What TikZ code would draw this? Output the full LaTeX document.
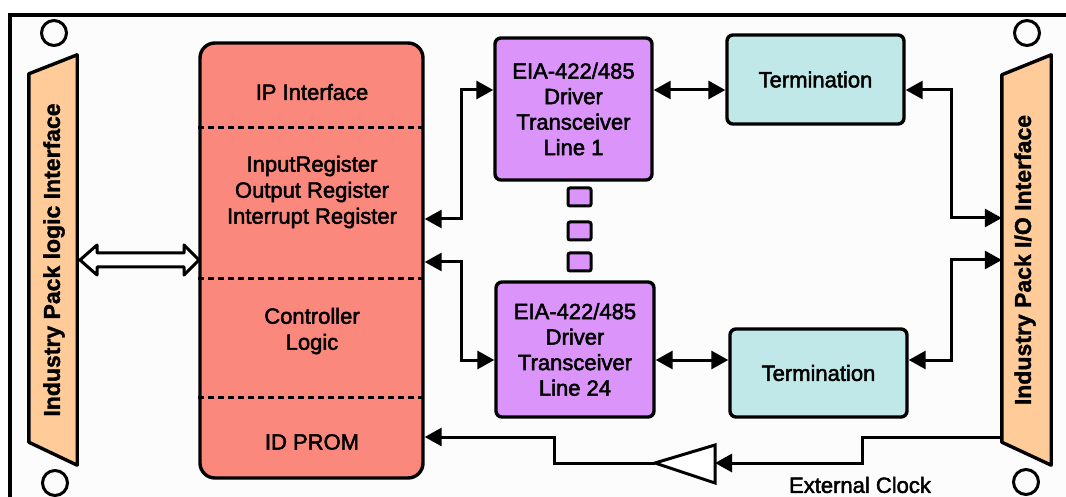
\documentclass[tikz,border=0pt]{standalone}
\usepackage{fontspec}
\setmainfont{Liberation Sans}
\newfontfamily\heavyfont{Liberation Sans}[FakeBold=2.2]
\newfontfamily\heavybold{Liberation Sans Bold}[FakeBold=1.5]
\usetikzlibrary{arrows.meta}
\definecolor{peach}{RGB}{255,204,153}
\definecolor{salmontwo}{RGB}{250,136,124}
\definecolor{violettwo}{RGB}{219,148,250}
\definecolor{aquatwo}{RGB}{192,232,232}
\definecolor{bgtwo}{RGB}{252,252,252}
\begin{document}
\begin{tikzpicture}[x=1pt,y=-1pt,
  box/.style={draw, line width=3.4pt, rounded corners=6pt, inner sep=0pt, align=center, font=\heavyfont\fontsize{22}{25.5}\selectfont},
  lbl/.style={align=center, font=\heavyfont\fontsize{22}{26}\selectfont, inner sep=0pt},
  vlbl/.style={rotate=90, font=\heavybold\fontsize{23}{27}\selectfont, inner sep=0pt},
  conn/.style={line width=3pt},
  dbl/.style={conn, {Triangle[length=17pt,width=18pt]}-{Triangle[length=17pt,width=18pt]}},
  one/.style={conn, -{Triangle[length=17pt,width=18pt]}},
  sep/.style={line width=3pt, dash pattern=on 6pt off 4pt},
  hole/.style={draw, line width=3pt, circle, minimum size=25pt, inner sep=0pt},
  dotbox/.style={draw, line width=3pt, rounded corners=2pt, fill=violettwo, minimum width=23pt, minimum height=18pt, inner sep=0pt},
  geom/.style={inner sep=0pt, draw=none}
]
\useasboundingbox (0,0) rectangle (1066,497);
\fill[bgtwo] (10,15) rectangle (1066,497);
\draw[line width=3.8pt] (10,497) -- (10,15) -- (1066,15);

% mounting holes
\node[hole] (h1) at (54,33) {};
\node[hole] (h2) at (55,483) {};
\node[hole] (h3) at (1027,33) {};
\node[hole] (h4) at (1026,482) {};

% left interface
\node[geom, minimum width=48pt, minimum height=410pt] (lp) at (53,260) {};
\filldraw[fill=peach, line width=3.4pt, line join=round] (lp.north east) -- ([yshift=-19pt]lp.north west) -- ([yshift=23pt]lp.south west) -- (lp.south east) -- cycle;
\node[vlbl] (lptext) at (54,260) {Industry Pack logic Interface};

% right interface
\node[geom, minimum width=49pt, minimum height=410pt] (io) at (1026.5,260) {};
\filldraw[fill=peach, line width=3.4pt, line join=round] (io.north east) -- ([yshift=-20pt]io.north west) -- ([yshift=23pt]io.south west) -- (io.south east) -- cycle;
\node[vlbl] (iotext) at (1025,260) {Industry Pack I/O Interface};

% main controller block
\node[box, fill=salmontwo, rounded corners=15pt, minimum width=223pt, minimum height=435pt] (red) at (311.5,260.5) {};
\draw[sep] (red.west |- 0,128) -- (red.east |- 0,128);
\draw[sep] (red.west |- 0,279) -- (red.east |- 0,279);
\draw[sep] (red.west |- 0,397) -- (red.east |- 0,397);
\node[lbl] (ipif) at (312,92) {IP Interface};
\node[lbl] (regs) at (312,192) {InputRegister\\Output Register\\Interrupt Register};
\node[lbl] (ctrl) at (312,331) {Controller\\Logic};
\node[lbl] (prom) at (312,442) {ID PROM};

% hollow bus arrow
\filldraw[fill=white, line width=3pt, line join=round] (80,260) -- (97,245) -- (97,253) -- (184,253) -- (184,245) -- (199,260) -- (184,275) -- (184,267) -- (97,267) -- (97,275) -- cycle;

% transceivers
\node[box, fill=violettwo, minimum width=157pt, minimum height=142pt] (p1) at (573.5,109) {EIA-422/485\\Driver\\Transceiver\\Line 1};
\node[box, fill=violettwo, minimum width=158pt, minimum height=135pt] (p2) at (575,349.5) {EIA-422/485\\Driver\\Transceiver\\Line 24};
\node[dotbox] (d1) at (579.5,197) {};
\node[dotbox] (d2) at (579.5,231) {};
\node[dotbox] (d3) at (579.5,262) {};

% terminations
\node[box, fill=aquatwo, minimum width=177pt, minimum height=89pt] (t1) at (815.5,79.5) {Termination};
\node[box, fill=aquatwo, minimum width=177pt, minimum height=88pt] (t2) at (818.5,373) {Termination};

% connectors
\draw[dbl] (red.east |- 0,219) -| (461,90) -- (p1.west |- 0,90);
\draw[dbl] (p1.east |- 0,90) -- (t1.west |- 0,90);
\draw[dbl] (t1.east |- 0,90) -| (951,218) -- (io.west |- 0,218);
\draw[dbl] (red.east |- 0,262) -| (461,360) -- (p2.west |- 0,360);
\draw[dbl] (p2.east |- 0,360) -- (t2.west |- 0,360);
\draw[dbl] (t2.east |- 0,360) -| (951,260) -- (io.west |- 0,260);

% clock buffer
\coordinate (bufin) at (715,463);
\coordinate (bufout) at (655,463);
\filldraw[fill=white, line width=3pt] (bufout) -- (715,445) -- (715,483) -- cycle;
\draw[one] (io.west |- 0,437) -| (862,463) -- (bufin);
\draw[one] (bufout) -| (554,437) -- (red.east |- 0,437);
\node[lbl] (ext) at (860,485) {External Clock};
\end{tikzpicture}
\end{document}
